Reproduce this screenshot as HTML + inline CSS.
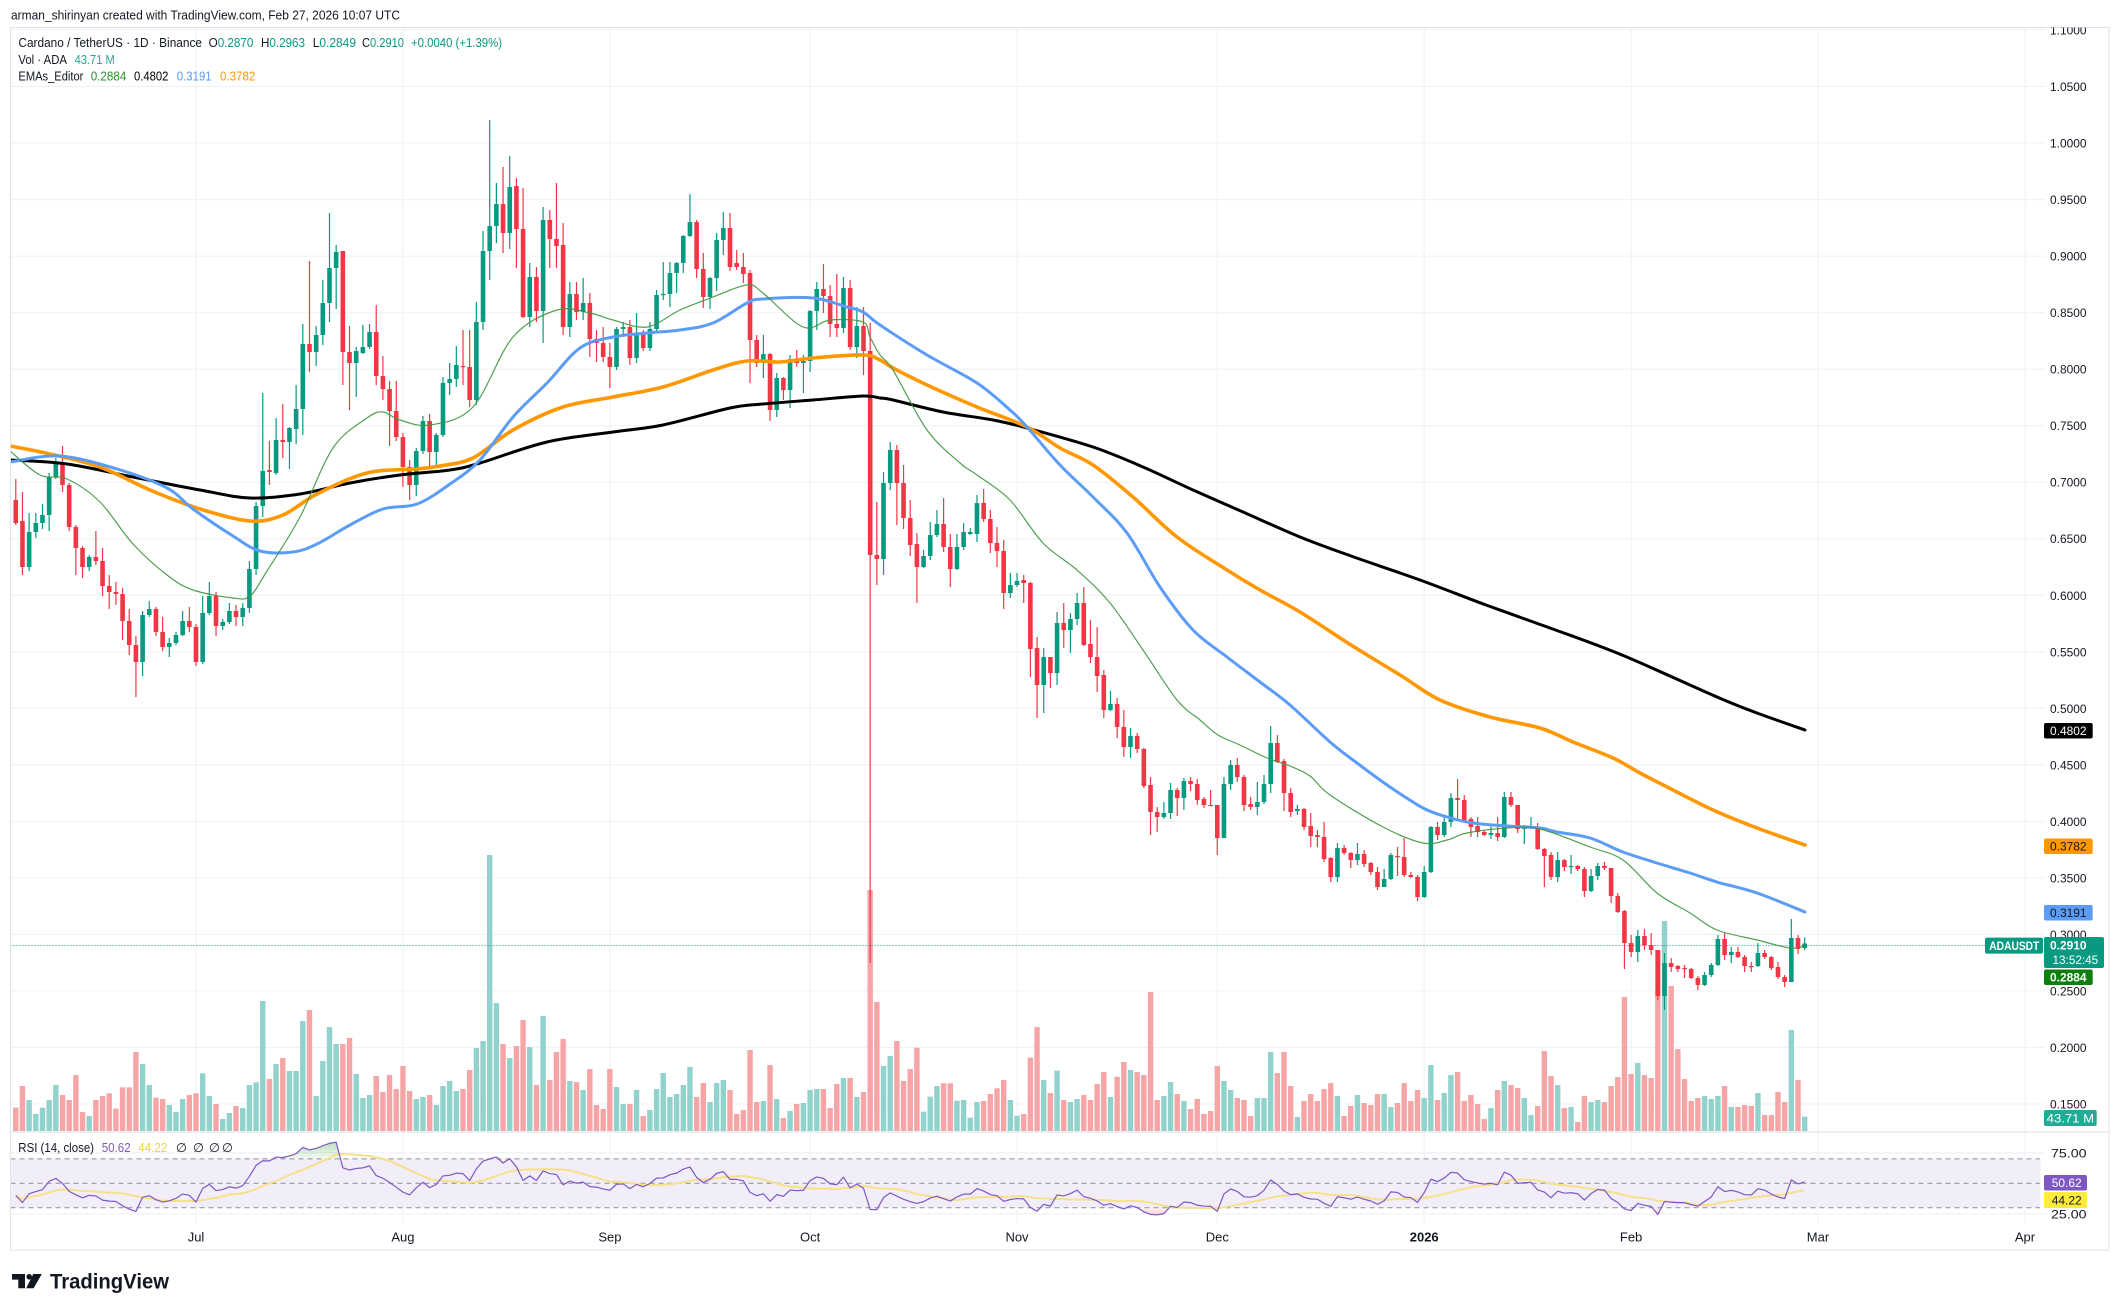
<!DOCTYPE html>
<html><head><meta charset="utf-8">
<style>
html,body{margin:0;padding:0;background:#fff;}
svg{display:block;font-family:"Liberation Sans","DejaVu Sans",Arial,sans-serif;}
</style></head><body>
<svg id="s" xmlns="http://www.w3.org/2000/svg" width="2119" height="1311" viewBox="0 0 2119 1311">
<defs>
 <clipPath id="cMain"><rect x="10.5" y="27.5" width="2035" height="1104"/></clipPath>
 <clipPath id="cRsi"><rect x="10.5" y="1132.5" width="2035" height="92"/></clipPath>
 <clipPath id="cOB"><rect x="10.5" y="1132.5" width="2035" height="26.4"/></clipPath>
 <clipPath id="cOS"><rect x="10.5" y="1207.7" width="2035" height="20"/></clipPath>
 <clipPath id="cAxis"><rect x="2040" y="27.5" width="79" height="1200"/></clipPath>
 <linearGradient id="gOB" x1="0" y1="1136" x2="0" y2="1159" gradientUnits="userSpaceOnUse"><stop offset="0" stop-color="#4caf50" stop-opacity="0.5"/><stop offset="1" stop-color="#4caf50" stop-opacity="0.06"/></linearGradient>
 <linearGradient id="gOS" x1="0" y1="1208" x2="0" y2="1225" gradientUnits="userSpaceOnUse"><stop offset="0" stop-color="#f23645" stop-opacity="0.06"/><stop offset="1" stop-color="#f23645" stop-opacity="0.5"/></linearGradient>
</defs>
<rect width="2119" height="1311" fill="#fff"/>
<g id="plot"></g>

<!-- frame -->
<rect x="10.5" y="27.5" width="2098.5" height="1222.5" fill="none" stroke="#e0e3eb" stroke-width="1"/>
<line x1="10.5" x2="2109" y1="1132" y2="1132" stroke="#e0e3eb" stroke-width="1.2"/>

<!-- header -->
<text x="11" y="19.5" font-size="13" fill="#131722" textLength="389" lengthAdjust="spacingAndGlyphs">arman_shirinyan created with TradingView.com, Feb 27, 2026 10:07 UTC</text>

<!-- legend -->
<g font-size="12.5" fill="#131722">
<text x="18.4" y="46.8" textLength="183.6" lengthAdjust="spacingAndGlyphs">Cardano / TetherUS · 1D · Binance</text>
<text x="208.6" y="46.8" textLength="44.8" lengthAdjust="spacingAndGlyphs">O<tspan fill="#089981">0.2870</tspan></text>
<text x="261" y="46.8" textLength="44" lengthAdjust="spacingAndGlyphs">H<tspan fill="#089981">0.2963</tspan></text>
<text x="312.7" y="46.8" textLength="43.3" lengthAdjust="spacingAndGlyphs">L<tspan fill="#089981">0.2849</tspan></text>
<text x="362" y="46.8" textLength="42" lengthAdjust="spacingAndGlyphs">C<tspan fill="#089981">0.2910</tspan></text>
<text x="411" y="46.8" fill="#089981" textLength="91" lengthAdjust="spacingAndGlyphs">+0.0040 (+1.39%)</text>
<text x="18.4" y="63.8" textLength="48.6" lengthAdjust="spacingAndGlyphs">Vol · ADA</text>
<text x="74.6" y="63.8" fill="#22ab94" textLength="40.2" lengthAdjust="spacingAndGlyphs">43.71 M</text>
<text x="18.4" y="80.5" textLength="65" lengthAdjust="spacingAndGlyphs">EMAs_Editor</text>
<text x="90.7" y="80.5" fill="#2e8f2e" textLength="35.6" lengthAdjust="spacingAndGlyphs">0.2884</text>
<text x="134" y="80.5" fill="#000" textLength="34.4" lengthAdjust="spacingAndGlyphs">0.4802</text>
<text x="176.8" y="80.5" fill="#5b9cf6" textLength="34.8" lengthAdjust="spacingAndGlyphs">0.3191</text>
<text x="220" y="80.5" fill="#ff9800" textLength="35.3" lengthAdjust="spacingAndGlyphs">0.3782</text>
</g>

<!-- RSI legend -->
<g font-size="12.5" fill="#131722">
<text x="18.3" y="1152" textLength="75.7" lengthAdjust="spacingAndGlyphs">RSI (14, close)</text>
<text x="101.7" y="1152" fill="#7e57c2" textLength="29" lengthAdjust="spacingAndGlyphs">50.62</text>
<text x="138.3" y="1152" fill="#f0d24a" textLength="29" lengthAdjust="spacingAndGlyphs">44.22</text>
<text x="176" y="1152">∅</text>
<text x="193" y="1152">∅</text>
<text x="209" y="1152">∅</text>
<text x="222" y="1152">∅</text>
</g>

<!-- price axis labels -->
<g font-size="12.3" fill="#131722" clip-path="url(#cAxis)">
<text x="2050" y="34.5" textLength="36.5" lengthAdjust="spacingAndGlyphs">1.1000</text>
<text x="2050" y="91" textLength="36.5" lengthAdjust="spacingAndGlyphs">1.0500</text>
<text x="2050" y="147.5" textLength="36.5" lengthAdjust="spacingAndGlyphs">1.0000</text>
<text x="2050" y="204.1" textLength="36.5" lengthAdjust="spacingAndGlyphs">0.9500</text>
<text x="2050" y="260.6" textLength="36.5" lengthAdjust="spacingAndGlyphs">0.9000</text>
<text x="2050" y="317.2" textLength="36.5" lengthAdjust="spacingAndGlyphs">0.8500</text>
<text x="2050" y="373.7" textLength="36.5" lengthAdjust="spacingAndGlyphs">0.8000</text>
<text x="2050" y="430.2" textLength="36.5" lengthAdjust="spacingAndGlyphs">0.7500</text>
<text x="2050" y="486.7" textLength="36.5" lengthAdjust="spacingAndGlyphs">0.7000</text>
<text x="2050" y="543.2" textLength="36.5" lengthAdjust="spacingAndGlyphs">0.6500</text>
<text x="2050" y="599.8" textLength="36.5" lengthAdjust="spacingAndGlyphs">0.6000</text>
<text x="2050" y="656.3" textLength="36.5" lengthAdjust="spacingAndGlyphs">0.5500</text>
<text x="2050" y="712.8" textLength="36.5" lengthAdjust="spacingAndGlyphs">0.5000</text>
<text x="2050" y="769.3" textLength="36.5" lengthAdjust="spacingAndGlyphs">0.4500</text>
<text x="2050" y="825.9" textLength="36.5" lengthAdjust="spacingAndGlyphs">0.4000</text>
<text x="2050" y="882.4" textLength="36.5" lengthAdjust="spacingAndGlyphs">0.3500</text>
<text x="2050" y="938.9" textLength="36.5" lengthAdjust="spacingAndGlyphs">0.3000</text>
<text x="2050" y="995.4" textLength="36.5" lengthAdjust="spacingAndGlyphs">0.2500</text>
<text x="2050" y="1051.9" textLength="36.5" lengthAdjust="spacingAndGlyphs">0.2000</text>
<text x="2050" y="1108.5" textLength="36.5" lengthAdjust="spacingAndGlyphs">0.1500</text>
<text x="2051" y="1157.3" textLength="35.6" lengthAdjust="spacingAndGlyphs">75.00</text>
<text x="2051" y="1218.3" textLength="35.6" lengthAdjust="spacingAndGlyphs">25.00</text>
</g>

<!-- value boxes -->
<g font-size="12.3">
<rect x="2044" y="723" width="48.7" height="15.5" rx="2" fill="#000"/>
<text x="2050" y="735" fill="#fff" textLength="36.5" lengthAdjust="spacingAndGlyphs">0.4802</text>
<rect x="2044" y="838.5" width="48.7" height="15.5" rx="2" fill="#ff9800"/>
<text x="2050" y="850.5" fill="#131722" textLength="36.5" lengthAdjust="spacingAndGlyphs">0.3782</text>
<rect x="2044" y="905" width="48.7" height="15.5" rx="2" fill="#5b9cf6"/>
<text x="2050" y="917.2" fill="#131722" textLength="36.5" lengthAdjust="spacingAndGlyphs">0.3191</text>
<rect x="1985" y="937.6" width="58" height="16" rx="2" fill="#089981"/>
<text x="1989.3" y="950" fill="#fff" font-weight="bold" font-size="12" textLength="50" lengthAdjust="spacingAndGlyphs">ADAUSDT</text>
<rect x="2044" y="937" width="60" height="31" rx="2" fill="#089981"/>
<text x="2050" y="949.3" fill="#fff" font-weight="bold" textLength="36.5" lengthAdjust="spacingAndGlyphs">0.2910</text>
<text x="2052.5" y="964" fill="#fff" textLength="45.7" lengthAdjust="spacingAndGlyphs">13:52:45</text>
<rect x="2044" y="969.5" width="48.7" height="15.5" rx="2" fill="#0c7f0c"/>
<text x="2050" y="981.6" fill="#fff" font-weight="bold" textLength="36.5" lengthAdjust="spacingAndGlyphs">0.2884</text>
<rect x="2044" y="1110" width="52.7" height="16" rx="2" fill="#22ab94"/>
<text x="2046.7" y="1122.4" fill="#fff" textLength="47.3" lengthAdjust="spacingAndGlyphs">43.71 M</text>
<rect x="2044" y="1175" width="43" height="15.5" rx="2" fill="#7e57c2"/>
<text x="2051.7" y="1187.1" fill="#fff" textLength="30" lengthAdjust="spacingAndGlyphs">50.62</text>
<rect x="2044" y="1192" width="43" height="16" rx="2" fill="#ffeb3b"/>
<text x="2051.7" y="1204.4" fill="#131722" textLength="30" lengthAdjust="spacingAndGlyphs">44.22</text>
</g>

<!-- time axis -->
<g font-size="13" fill="#131722" text-anchor="middle">
<text x="196" y="1241.5">Jul</text>
<text x="402.9" y="1241.5">Aug</text>
<text x="609.9" y="1241.5">Sep</text>
<text x="810.1" y="1241.5">Oct</text>
<text x="1017" y="1241.5">Nov</text>
<text x="1217.3" y="1241.5">Dec</text>
<text x="1424.2" y="1241.5" font-weight="bold">2026</text>
<text x="1631.1" y="1241.5">Feb</text>
<text x="1818" y="1241.5">Mar</text>
<text x="2025" y="1241.5">Apr</text>
</g>

<!-- logo -->
<g fill="#131722">
<path d="M12 1274 H25 V1288.3 H18.3 V1279.6 H12 Z"/>
<circle cx="29.2" cy="1276.8" r="2.8"/>
<path d="M33.2 1274 H41.8 L33.6 1288.3 H26.2 Z"/>
</g>
<text x="50" y="1288.3" font-size="21" font-weight="bold" fill="#131722" textLength="119" lengthAdjust="spacingAndGlyphs">TradingView</text>
</svg>

<script>
(function(){
var C=[
[500,479,525,523],[521,492,575,567],[567,513,571,532],[532,513,538,523],[523,504,529,515],[515,473,531,477],[477,458,479,462],[464,446,492,485],[485,483,531,527],[527,525,575,548],
[548,546,578,567],[567,555,571,557],[557,531,565,561],[561,548,596,586],[586,575,609,592],[592,582,605,594],[594,588,640,621],[621,609,655,645],[645,636,697,662],[662,611,676,615],
[615,601,617,609],[609,607,636,632],[632,617,651,647],[647,638,657,643],[643,632,645,635],[635,611,636,621],[621,607,632,627],
[627,624,666,662],[662,596,664,613],[613,582,615,596],[596,592,636,626],[626,619,630,622],[622,603,624,611],[611,605,626,617],[617,603,626,608],[608,561,613,569],[569,502,575,506],
[506,393,517,471],[470,441,485,472],[473,418,475,440],[440,404,458,442],[442,427,469,428],[429,385,444,409],[409,324,435,344],[344,261,372,352],[352,326,366,335],[335,280,345,303],
[303,213,322,268],[268,245,309,252],[251,251,385,352],[352,326,410,363],[363,347,397,351],[353,325,354,347],[347,324,349,332],[332,305,385,376],[376,356,400,389],[389,381,446,411],
[411,381,441,437],[437,433,487,467],[467,460,500,485],[485,448,496,451],[451,416,454,421],[421,414,467,452],[452,433,467,435],[435,377,437,383],[383,363,395,379],[379,346,387,365],
[366,330,385,367],[367,330,407,400],[400,302,405,322],[322,231,330,251],[251,120,280,226],[226,183,243,204],[204,167,253,233],[233,156,249,187],[186,178,268,229],[229,188,318,317],
[317,263,327,277],[277,267,322,311],[311,207,343,220],[220,210,268,239],[239,183,268,246],[245,223,335,327],[327,282,337,294],[294,282,320,312],[312,278,320,303],[303,293,357,339],
[339,330,362,343],[343,327,362,357],[357,343,388,367],[367,327,370,329],[329,322,334,327],[327,320,365,358],[358,313,363,333],[333,330,351,348],[348,322,351,329],[329,290,333,295],
[295,262,300,294],[294,262,307,273],[273,262,293,263],[263,235,273,236],[236,194,237,222],[222,220,278,269],[269,253,308,297],[297,277,309,278],[278,233,291,240],[240,212,255,228],
[228,213,271,267],[263,250,270,267],[267,253,283,274],[273,270,383,340],[340,335,367,363],[363,335,378,354],[354,353,421,410],[410,373,417,378],[378,377,400,390],[390,355,408,359],
[359,350,367,363],[363,355,393,361],[361,310,372,311],[311,282,330,289],[289,264,313,296],[296,285,337,324],[324,274,337,328],[328,277,333,288],[288,280,350,347],[347,307,358,326],
[326,307,375,351],[351,323,963,555],[555,502,585,559],[559,472,575,483],[483,442,490,450],[450,445,525,483],[483,465,529,518],[518,500,556,545],[544,533,603,567],[567,550,568,556],
[556,522,560,535],[535,510,537,524],[524,498,552,547],[547,534,587,569],[569,534,570,547],[547,523,550,532],[534,528,535,532],[534,495,542,503],[503,489,522,519],[519,510,553,543],
[543,527,567,551],[551,540,609,593],[593,573,598,585],[585,573,587,581],[580,575,603,583],[583,582,677,649],[648,637,718,685],[685,648,713,657],[657,657,688,673],[673,612,685,623],
[623,603,648,630],[630,613,653,619],[619,593,625,603],[603,587,646,645],[644,620,663,657],[657,627,692,676],[675,670,718,710],[710,691,711,704],[704,698,738,727],[727,710,757,747],
[747,728,758,736],[736,733,753,749],[749,748,788,786],[785,777,835,812],[812,807,832,817],[817,802,819,813],[813,783,819,790],[790,788,816,798],[798,778,810,781],[781,777,791,784],
[784,779,805,800],[799,797,808,805],[805,790,806,806],[805,805,855,838],[838,777,838,784],[784,760,790,765],[765,758,782,777],[777,775,811,805],[804,797,810,807],[807,782,815,802],
[802,775,804,784],[784,726,793,743],[743,735,763,762],[761,759,811,793],[793,788,817,812],[811,805,815,809],[809,808,830,827],[826,813,847,836],[835,830,847,837],[837,822,862,859],
[858,857,882,877],[877,843,882,848],[848,845,855,853],[853,852,868,860],[860,843,865,854],[854,850,867,864],[863,862,875,872],[872,867,890,887],[887,869,887,879],[879,853,880,855],
[856,847,876,857],[857,838,877,875],[875,872,878,877],[877,875,901,897],[897,866,898,872],[872,826,873,827],[827,822,840,835],[835,817,837,822],[822,793,827,798],[798,779,820,800],
[800,795,823,821],[819,817,837,827],[826,817,837,832],[832,830,836,835],[835,825,839,833],[833,817,841,837],[837,792,838,797],[797,792,807,805],[805,805,833,829],[829,825,844,827],
[827,817,829,826],[827,823,850,849],[849,848,887,856],[855,852,880,877],[877,852,882,860],[860,859,871,867],[867,855,874,866],[866,865,871,869],[869,867,897,891],[891,869,892,876],
[876,863,880,866],[866,862,870,868],[868,868,903,896],[896,893,913,912],[911,910,969,943],[943,935,957,952],[952,930,962,936],[936,929,950,945],[945,933,955,950],[950,950,1000,996],
[996,953,1010,963],[963,958,972,967],[966,965,972,969],[968,965,978,969],[969,968,979,978],[978,976,990,985],[985,972,986,975],[975,963,977,965],[965,935,966,939],[939,933,960,955],
[955,947,963,952],[952,947,958,957],[957,955,972,966],[966,962,972,967],[966,943,967,953],[953,950,959,957],[957,956,970,968],[967,962,979,977],[977,975,987,982],[982,919,982,938],
[938,935,954,949],[948,937.5,950.4,943.5]
];
var V9=[803,738,780,822,803,780,735,765,780,705,
816,828,780,768,760,806,742,742,636,672,
735,773,777,795,816,777,765,760,700,768,
792,837,819,798,804,735,727,483,717,672,
654,693,693,543,510,768,663,561,612,612,
594,702,774,765,708,756,705,747,678,753,
777,771,765,795,738,723,753,747,690,624,
603,45,489,612,654,618,540,621,735,528,
720,636,597,723,726,750,687,795,807,687,
741,792,792,750,828,810,747,699,771,762,
735,681,771,729,786,729,720,750,822,810,
630,786,783,675,777,834,813,792,789,750,
747,747,804,732,714,714,771,756,150,486,
678,648,603,723,687];
var V10=[203,395,350,318,310,310,362,360,413,366,
363,342,325,300,360,407,402,233,141,300,
339,272,360,366,357,345,360,312,276,351,
290,246,270,276,285,36,360,348,306,342,
363,387,357,402,393,258,303,330,354,360,
408,354,354,216,279,216,318,411,363,342,
363,327,309,348,408,378,345,369,375,342,
342,381,369,309,363,330,354,255,360,339,
285,276,363,345,372,417,384,330,303,315,
324,354,405,378,213,288,315,384,381,426,
348,366,360,366,318,291,51,282,249,285,
294,-90,-177,18,207,297,363,354,348,357,
348,318,381,381,375,378,339,405,405,336,
366,150,300,410];
var SVGNS='http://www.w3.org/2000/svg';
var plot=document.getElementById('plot');
function X(d){return 196+6.675*d;}
function f(v){return Math.round(v*100)/100;}
function el(tag,attrs,parent){var e=document.createElementNS(SVGNS,tag);for(var k in attrs){e.setAttribute(k,attrs[k]);}(parent||plot).appendChild(e);return e;}
// grid
var gy=[30.0,86.5,143.05,199.6,256.1,312.7,369.2,425.7,482.2,538.7,595.3,651.8,708.3,764.8,821.4,877.9,934.4,990.9,1047.4,1104,1152.8,1213.8];
gy.forEach(function(y){el('line',{x1:10.5,x2:2045,y1:y,y2:y,stroke:'#eef0f4','stroke-width':1});});
[0,31,62,92,123,153,184,215,243,274].forEach(function(d){var x=f(X(d));el('line',{x1:x,x2:x,y1:27.5,y2:1224,stroke:'#eef0f4','stroke-width':1});});
// RSI band
el('rect',{x:10.5,y:1158.9,width:2030,height:48.8,fill:'#f2eef9'});
[1158.9,1183.3,1207.7].forEach(function(y){el('line',{x1:10.5,x2:2040,y1:y,y2:y,stroke:'#8a8d96','stroke-width':1,'stroke-dasharray':'5 4'});});
// volume
var gv=el('g',{'clip-path':'url(#cMain)'});
for(var i=0;i<C.length;i++){
  var d=i-27,c=C[i],up=c[3]<=c[0];
  var top=d<=107?840+V9[i]/3:980+V10[d-108]/3;
  el('rect',{x:f(X(d)-2.7),y:f(top),width:5.4,height:f(1131-top),fill:up?'#92d2cc':'#f5a5a5'},gv);
}
// candles
var gc=el('g',{'clip-path':'url(#cMain)'});
for(var i=0;i<C.length;i++){
  var d=i-27,c=C[i],o=c[0],cl=c[3];
  var hi=Math.min(c[1],o,cl),lo=Math.max(c[2],o,cl);
  var col=(cl<=o)?'#089981':'#f23645';
  var x=X(d);
  el('rect',{x:f(x-0.6),y:hi,width:1.2,height:f(lo-hi),fill:col},gc);
  var t=Math.min(o,cl),b=Math.max(o,cl);
  el('rect',{x:f(x-2.3),y:t,width:4.6,height:f(Math.max(1.2,b-t)),fill:col},gc);
}
// EMAs
function sm(p){var s='M'+p[0][0]+','+p[0][1];for(var i=0;i<p.length-1;i++){var a=p[i-1]||p[i],b=p[i],c=p[i+1],e=p[i+2]||c;s+='C'+f(b[0]+(c[0]-a[0])/6)+','+f(b[1]+(c[1]-a[1])/6)+' '+f(c[0]-(e[0]-b[0])/6)+','+f(c[1]-(e[1]-b[1])/6)+' '+c[0]+','+c[1];}return s;}
var BLK=[[10,460],[67,464],[133,477],[200,490],[250,498],[300,494],[350,483],[400,475],[450,470],[480,463],[547,442],[613,432],[663,425],[730,408],[763,404],[813,400],[863,396],[880,398],[893,400],[943,412],[993,420],[1027,428],[1093,447],[1143,467],[1193,490],[1243,512],[1300,537],[1351,556],[1420,580],[1486,605],[1550,628],[1622,655],[1717,697],[1757,713],[1805,730]];
var ORG=[[10,446],[50,454],[100,467],[150,490],[200,509],[250,521],[283,515],[317,494],[367,473],[417,469],[440,466],[473,458],[513,430],[563,407],[613,397],[663,387],[713,370],[747,361],[780,362],[813,358],[863,355],[880,360],[893,368],[927,385],[977,407],[1027,427],[1060,448],[1093,465],[1133,497],[1177,537],[1227,570],[1260,590],[1300,612],[1351,645],[1400,675],[1440,700],[1490,717],[1540,728],[1573,742],[1613,758],[1640,773],[1673,790],[1713,810],[1757,828],[1805,845]];
var BLU=[[10,462],[60,456],[117,469],[167,488],[193,509],[233,536],[260,551],[293,552],[317,544],[350,525],[383,509],[417,504],[450,484],[480,460],[513,417],[547,383],[580,348],[613,337],[647,333],[680,330],[713,323],[747,303],[763,299],[813,298],[847,307],[863,312],[880,325],[927,355],[977,383],[1010,410],[1027,427],[1060,465],[1093,497],[1127,533],[1160,587],[1193,630],[1227,657],[1260,682],[1290,705],[1330,742],[1357,763],[1390,787],[1423,808],[1447,817],[1473,823],[1507,826],[1540,828],[1557,832],[1590,838],[1623,852],[1657,863],[1690,873],[1717,882],[1757,893],[1805,912]];
var GRN=[[10,451],[40,475],[67,479],[100,502],[133,544],[167,575],[193,590],[233,598],[250,596],[267,571],[300,517],[333,448],[367,418],[383,412],[400,420],[430,425],[473,407],[513,337],[557,310],[590,313],[613,320],[647,327],[680,310],[713,297],[747,285],[763,293],[803,327],[830,320],[863,322],[870,337],[880,355],[893,370],[927,430],[960,463],[977,475],[1010,500],[1043,543],[1077,570],[1110,603],[1143,650],[1177,700],[1200,720],[1218,735],[1240,745],[1267,758],[1290,766],[1310,776],[1330,795],[1383,827],[1423,843],[1447,840],[1467,833],[1507,828],[1540,829],[1590,847],[1623,860],[1657,893],[1690,913],[1717,930],[1757,940],[1790,948],[1805,946]];
var ge=el('g',{'clip-path':'url(#cMain)'});
el('path',{d:sm(BLK),fill:'none',stroke:'#000','stroke-width':3,'stroke-linejoin':'round','stroke-linecap':'round'},ge);
el('path',{d:sm(ORG),fill:'none',stroke:'#ff9800','stroke-width':3.6,'stroke-linejoin':'round','stroke-linecap':'round'},ge);
el('path',{d:sm(BLU),fill:'none',stroke:'#5b9cf6','stroke-width':3,'stroke-linejoin':'round','stroke-linecap':'round'},ge);
el('path',{d:sm(GRN),fill:'none',stroke:'#3d963d','stroke-width':1.2,'stroke-opacity':0.9,'stroke-linejoin':'round'},ge);
// last price line
el('line',{x1:10.5,x2:1985,y1:945.5,y2:945.5,stroke:'#089981','stroke-width':1,'stroke-dasharray':'1 2'});
// RSI
var ag=8,al=12,r=[];
for(var i=0;i<C.length;i++){
  if(i>0){var ch=C[i-1][3]-C[i][3];ag=(ag*13+Math.max(ch,0))/14;al=(al*13+Math.max(-ch,0))/14;}
  r.push(100-100/(1+ag/al));
}
var ma=r.map(function(v,i){var s=0,n=0;for(var k=Math.max(0,i-13);k<=i;k++){s+=r[k];n++;}return s/n;});
function RY(v){return 1183.3-(v-50)*1.22;}
var rp='',mp='';
r.forEach(function(v,i){rp+=(i?'L':'M')+f(X(i-27))+','+f(RY(v));});
ma.forEach(function(v,i){mp+=(i?'L':'M')+f(X(i-27))+','+f(RY(v));});
var x0=f(X(-27)),x1=f(X(241));
var gr=el('g',{'clip-path':'url(#cRsi)'});
el('path',{d:'M'+x0+',1158.9L'+rp.substring(1)+'L'+x1+',1158.9Z',fill:'url(#gOB)','clip-path':'url(#cOB)'},gr);
el('path',{d:'M'+x0+',1207.7L'+rp.substring(1)+'L'+x1+',1207.7Z',fill:'url(#gOS)','clip-path':'url(#cOS)'},gr);
el('path',{d:mp,fill:'none',stroke:'#f6e08a','stroke-width':2,'stroke-linejoin':'round'},gr);
el('path',{d:rp,fill:'none',stroke:'#7e57c2','stroke-width':1.2,'stroke-linejoin':'round'},gr);
})();
</script>
</body></html>
